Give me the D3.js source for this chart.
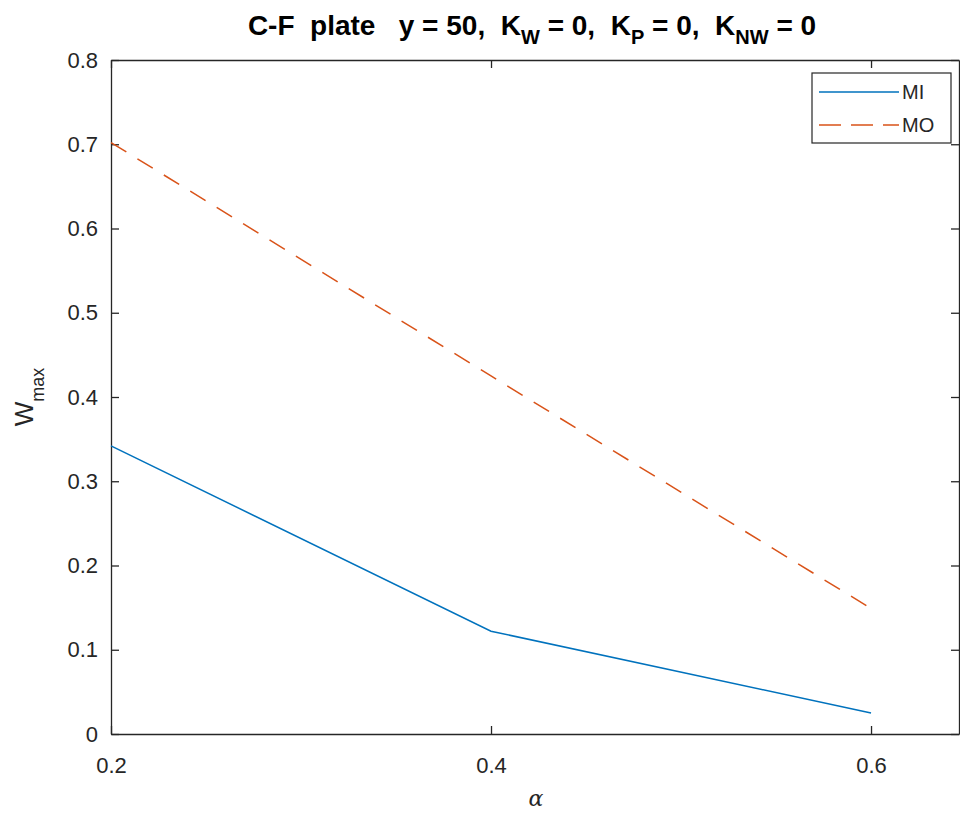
<!DOCTYPE html>
<html>
<head>
<meta charset="utf-8">
<script src="https://cdn.jsdelivr.net/npm/d3@7"></script>
<style>
  body { margin: 0; background: #fff; }
  svg text { font-family: "Liberation Sans", Arial, sans-serif; }
</style>
</head>
<body>
<div id="chart"></div>
<script>
"use strict";

// data
const alpha = [0.2, 0.4, 0.6];
const mi_values = [0.342, 0.122, 0.025];
const mo_values = [0.702, 0.425, 0.149];
const series_names = ["MI", "MO"];
const x_ticks = [0.2, 0.4, 0.6];
const y_ticks = [0, 0.1, 0.2, 0.3, 0.4, 0.5, 0.6, 0.7, 0.8];
const x_limits = [0.2, 0.6463];
const y_limits = [0, 0.8];

const width = 960, height = 821;
const margins = {top: 60, right: 1, bottom: 87, left: 111};
const plot_width = width - margins.left - margins.right;
const plot_height = height - margins.top - margins.bottom;

const x_scale = d3.scaleLinear().domain(x_limits).range([0, plot_width]);
const y_scale = d3.scaleLinear().domain(y_limits).range([plot_height, 0]);

const svg = d3.select("#chart").append("svg")
    .attr("width", width)
    .attr("height", height);

svg.append("rect").attr("width", width).attr("height", height).attr("fill", "white");

const g = svg.append("g")
    .attr("transform", "translate(" + margins.left + "," + margins.top + ")");

const fmt = d3.format(".1f");
const fmt_y = d => d === 0 ? "0" : fmt(d);

// axes, MATLAB style: ticks pointing inward on all four sides
const x_axis = d3.axisBottom(x_scale).tickValues(x_ticks).tickFormat(fmt).tickSizeInner(-8).tickSizeOuter(0).tickPadding(23);
const y_axis = d3.axisLeft(y_scale).tickValues(y_ticks).tickFormat(fmt_y).tickSizeInner(-8).tickSizeOuter(0).tickPadding(13);
const x_axis_top = d3.axisTop(x_scale).tickValues(x_ticks).tickFormat("").tickSizeInner(-8).tickSizeOuter(0);
const y_axis_right = d3.axisRight(y_scale).tickValues(y_ticks).tickFormat("").tickSizeInner(-8).tickSizeOuter(0);

function style_axis(sel) {
    sel.selectAll("path").attr("stroke", "#262626").attr("stroke-width", 1.3);
    sel.selectAll("line").attr("stroke", "#262626").attr("stroke-width", 1.3);
    sel.selectAll("text").attr("fill", "#262626").style("font-size", "22px");
}

g.append("g").attr("transform", "translate(0," + plot_height + ")").call(x_axis).call(style_axis);
g.append("g").call(y_axis).call(style_axis);
g.append("g").call(x_axis_top).call(style_axis);
g.append("g").attr("transform", "translate(" + plot_width + ",0)").call(y_axis_right).call(style_axis);

// lines
const line = d3.line().x((d, i) => x_scale(alpha[i])).y(d => y_scale(d));

g.append("path").datum(mi_values)
    .attr("d", line)
    .attr("fill", "none")
    .attr("stroke", "#0072BD")
    .attr("stroke-width", 1.5);

g.append("path").datum(mo_values)
    .attr("d", line)
    .attr("fill", "none")
    .attr("stroke", "#D95319")
    .attr("stroke-width", 1.5)
    .attr("stroke-dasharray", "18,13");

// legend
const legend = svg.append("g").attr("transform", "translate(812,73)");
legend.append("rect")
    .attr("width", 139).attr("height", 70)
    .attr("fill", "white").attr("stroke", "#262626").attr("stroke-width", 1.2);
const legend_styles = [{color: "#0072BD", dash: null}, {color: "#D95319", dash: "22,10"}];
series_names.forEach(function (name, i) {
    const yy = 19 + i * 33;
    legend.append("line")
        .attr("x1", 7).attr("x2", 87).attr("y1", yy).attr("y2", yy)
        .attr("stroke", legend_styles[i].color).attr("stroke-width", 1.5)
        .attr("stroke-dasharray", legend_styles[i].dash);
    legend.append("text")
        .attr("x", 90).attr("y", yy + 7)
        .attr("fill", "#262626")
        .style("font-size", "20px")
        .text(name);
});

// title with subscripts
const title = svg.append("text")
    .attr("x", 532).attr("y", 35)
    .attr("text-anchor", "middle")
    .attr("fill", "#000")
    .style("font-size", "28px")
    .style("font-weight", "bold")
    .attr("xml:space", "preserve");
title.append("tspan").text("C-F  plate   y = 50,  K");
title.append("tspan").attr("dy", 9).style("font-size", "20px").text("W");
title.append("tspan").attr("dy", -9).text(" = 0,  K");
title.append("tspan").attr("dy", 9).style("font-size", "20px").text("P");
title.append("tspan").attr("dy", -9).text(" = 0,  K");
title.append("tspan").attr("dy", 9).style("font-size", "20px").text("NW");
title.append("tspan").attr("dy", -9).text(" = 0");

// y label
const y_label = svg.append("text")
    .attr("transform", "translate(33,397) rotate(-90)")
    .attr("text-anchor", "middle")
    .attr("fill", "#262626")
    .style("font-size", "26px");
y_label.append("tspan").text("W");
y_label.append("tspan").attr("dy", 11).style("font-size", "18px").text("max");

// x label
svg.append("text")
    .attr("x", margins.left + x_scale(0.4) + 45)
    .attr("y", 806)
    .attr("text-anchor", "middle")
    .attr("fill", "#262626")
    .style("font-family", "'DejaVu Serif', 'Liberation Serif', serif")
    .style("font-style", "italic")
    .style("font-size", "22px")
    .text("α");
</script>
</body>
</html>
